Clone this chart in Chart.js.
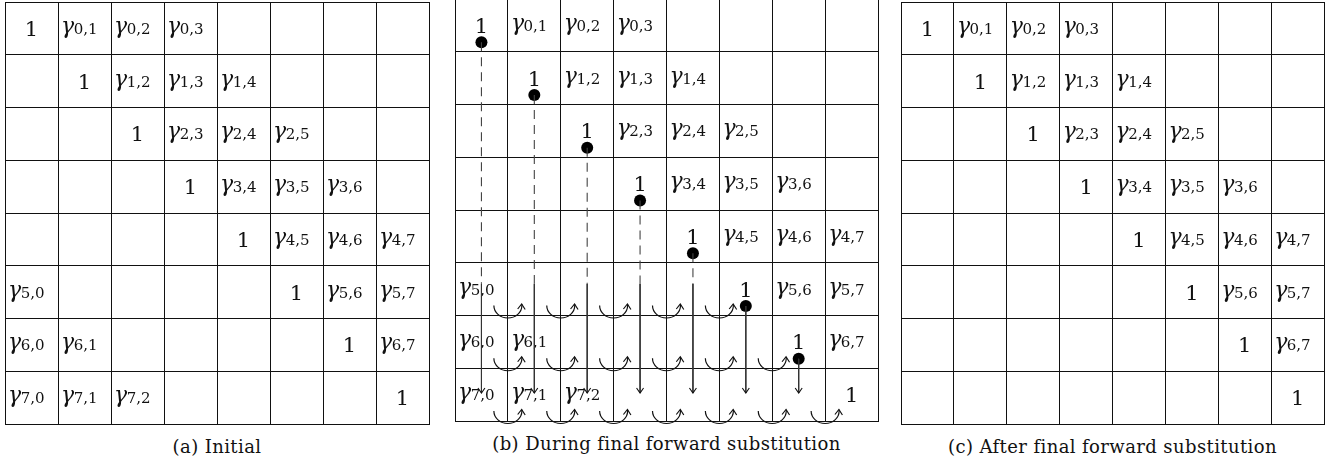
<!DOCTYPE html>
<html>
<head>
<meta charset="utf-8">
<script src="https://cdn.jsdelivr.net/npm/chart.js@4.4.1/dist/chart.umd.min.js"></script>
<style>
  body { margin: 0; background: #fff; width: 1338px; height: 464px; overflow: hidden; position: relative; }
  .panel { position: absolute; }
  .caption { position: absolute; font-family: 'DejaVu Serif', serif; font-size: 18px; line-height: 22px;
             text-align: center; color: #111; white-space: nowrap; letter-spacing: 0.4px; }
</style>
</head>
<body>
<div class="panel" id="boxA"><canvas id="chartA"></canvas></div>
<div class="panel" id="boxB"><canvas id="chartB"></canvas></div>
<div class="panel" id="boxC"><canvas id="chartC"></canvas></div>
<div class="caption" id="capA"></div>
<div class="caption" id="capB"></div>
<div class="caption" id="capC"></div>
<script>
// === Daten ===
const N = 8;
const diagOnes = [0, 1, 2, 3, 4, 5, 6, 7];
const upperGammas = [[0,1],[0,2],[0,3],[1,2],[1,3],[1,4],[2,3],[2,4],[2,5],
                     [3,4],[3,5],[3,6],[4,5],[4,6],[4,7],[5,6],[5,7],[6,7]];
const lowerGammas = [[5,0],[6,0],[6,1],[7,0],[7,1],[7,2]];
const pivotCols = [0, 1, 2, 3, 4, 5, 6];   // Punkte + senkrechte Pfeile in (b)
const curlRows = [5, 6, 7];               // Zeilen mit gebogenen Pfeilen an der Unterkante
const captions = ['(a) Initial', '(b) During final forward substitution', '(c) After final forward substitution'];

// === Layout ===
const PAD = 6;
const DOT_Y = 0.82;      // Lage des Punkts in der Zelle
const DASH_END = 5.4;    // bis hier gestrichelt
const ARROW_TIP = 7.47;  // Pfeilspitze in der letzten Zeile

// === Text in den Zellen ===
const cellText = {
    id: 'cellText',
    beforeDatasetsDraw(chart, args, opts) {
        const ctx = chart.ctx, xs = chart.scales.x, ys = chart.scales.y;
        ctx.save();
        ctx.fillStyle = '#111';
        ctx.textBaseline = 'alphabetic';
        ctx.textAlign = 'center';
        ctx.font = '21px "DejaVu Serif"';
        diagOnes.forEach(i => {
            ctx.fillText('1', xs.getPixelForValue(i + 0.5), ys.getPixelForValue(i + 0.5) + 7.5);
        });
        ctx.textAlign = 'left';
        opts.gammas.forEach(([r, c]) => {
            const x0 = xs.getPixelForValue(c) + 3;
            const yc = ys.getPixelForValue(r + 0.5);
            ctx.font = 'italic 22px "DejaVu Serif"';
            ctx.fillText('γ', x0, yc + 4.5);
            const gw = ctx.measureText('γ').width;
            ctx.font = '15px "DejaVu Serif"';
            ctx.fillText(r + ',' + c, x0 + gw - 0.5, yc + 5.5);
        });
        ctx.restore();
    }
};

// === Pfeilspitzen und Bögen für (b) ===
const arrows = {
    id: 'arrows',
    afterDatasetsDraw(chart, args, opts) {
        if (!opts.show) return;
        const ctx = chart.ctx, xs = chart.scales.x, ys = chart.scales.y;
        ctx.save();
        ctx.strokeStyle = '#111';
        ctx.lineWidth = 1.1;
        // senkrechte Pfeile
        chart.data.datasets.forEach((ds, i) => {
            if (!ds.arrowEnd) return;
            const pts = chart.getDatasetMeta(i).data;
            const tip = pts[pts.length - 1];
            ctx.beginPath();
            ctx.moveTo(tip.x - 3.5, tip.y - 5);
            ctx.lineTo(tip.x, tip.y);
            ctx.lineTo(tip.x + 3.5, tip.y - 5);
            ctx.stroke();
        });
        // gebogene Pfeile an den Zeilengrenzen
        ctx.lineWidth = 1.2;
        curlRows.forEach(r => {
            const by = ys.getPixelForValue(r + 1);
            for (let k = 1; k <= r; k++) {
                const bx = xs.getPixelForValue(k);
                ctx.beginPath();
                ctx.ellipse(bx, by - 10, 14, 12.5, 0, Math.PI, -0.1, true);
                ctx.stroke();
                ctx.beginPath();
                ctx.moveTo(bx + 13.8 - 4, by - 10 + 3.5);
                ctx.lineTo(bx + 13.8, by - 11.5);
                ctx.lineTo(bx + 13.8 + 3.5, by - 10 + 4);
                ctx.stroke();
            }
        });
        ctx.restore();
    }
};

function gridScale(reverse) {
    return {
        type: 'linear', min: 0, max: N, reverse: reverse,
        ticks: { display: false, stepSize: 1 },
        grid: { color: '#111', lineWidth: 1, drawTicks: false },
        border: { color: '#111', width: 1 }
    };
}

function buildDuringDatasets() {
    const sets = [];
    pivotCols.forEach(j => {
        const top = j + DOT_Y;
        if (top < DASH_END) {
            // gestrichelter Teil
            sets.push({
                data: [{ x: j + 0.5, y: top }, { x: j + 0.5, y: DASH_END }],
                showLine: true, pointRadius: 0, borderColor: '#444', borderWidth: 1.1,
                borderDash: [9, 6]
            });
        }
        // durchgezogener Teil mit Pfeil
        sets.push({
            data: [{ x: j + 0.5, y: Math.max(top, DASH_END) }, { x: j + 0.5, y: ARROW_TIP }],
            showLine: true, pointRadius: 0, borderColor: '#333', borderWidth: 1,
            arrowEnd: true
        });
    });
    sets.push({
        data: pivotCols.map(j => ({ x: j + 0.5, y: j + DOT_Y })),
        showLine: false, pointRadius: 6, pointBackgroundColor: '#000', pointBorderWidth: 0
    });
    return sets;
}

function buildChart(canvasId, boxId, capId, caption, left, top, w, h, gammas, during) {
    const box = document.getElementById(boxId);
    box.style.left = (left - PAD) + 'px';
    box.style.top = (top - PAD) + 'px';
    box.style.width = (w + 2 * PAD) + 'px';
    box.style.height = (h + 2 * PAD) + 'px';

    const cap = document.getElementById(capId);
    cap.textContent = caption;
    cap.style.left = (left - 20) + 'px';
    cap.style.width = (w + 40) + 'px';
    cap.style.top = (top + h + 12) + 'px';

    return new Chart(document.getElementById(canvasId), {
        type: 'scatter',
        data: { datasets: during ? buildDuringDatasets() : [] },
        options: {
            responsive: true,
            maintainAspectRatio: false,
            animation: false,
            events: [],
            layout: { padding: PAD },
            scales: { x: gridScale(false), y: gridScale(true) },
            plugins: {
                legend: { display: false },
                tooltip: { enabled: false },
                cellText: { gammas: gammas },
                arrows: { show: during }
            }
        },
        plugins: [cellText, arrows]
    });
}

buildChart('chartA', 'boxA', 'capA', captions[0], 5, 2, 424, 422, upperGammas.concat(lowerGammas), false);
buildChart('chartB', 'boxB', 'capB', captions[1], 455, -1, 423, 422, upperGammas.concat(lowerGammas), true);
buildChart('chartC', 'boxC', 'capC', captions[2], 901, 2, 423, 422, upperGammas, false);
</script>
</body>
</html>
